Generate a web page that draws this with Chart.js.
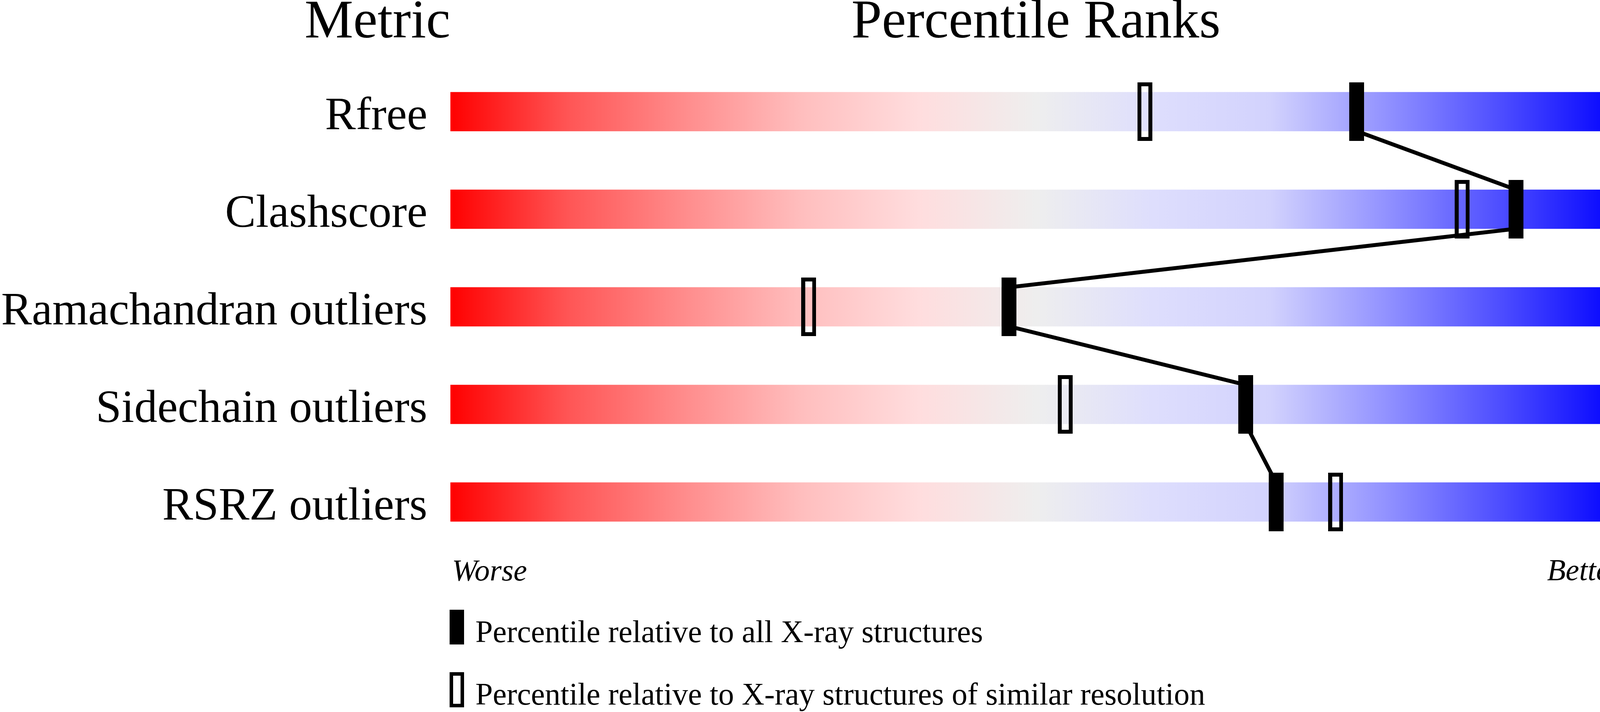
<!DOCTYPE html>
<html>
<head>
<meta charset="utf-8">
<title>Percentile Ranks</title>
<script src="https://cdn.jsdelivr.net/npm/chart.js@4.4.1/dist/chart.umd.min.js"></script>
<style>
  html, body { margin: 0; padding: 0; background: #fff; }
  #wrap { width: 4485px; height: 1824px; }
</style>
</head>
<body>
<div id="wrap"><canvas id="percentileChart"></canvas></div>
<script>
// values
const metrics = ['Rfree', 'Clashscore', 'Ramachandran outliers', 'Sidechain outliers', 'RSRZ outliers'];
const values = ['0.206', '2', '0.1%', '1.0%', '1.6%'];
const pctAll = [77.4, 91.0, 47.7, 67.9, 70.5];
const pctSimilar = [59.3, 86.4, 30.6, 52.5, 75.6];
const rowTicks = [0, 1, 2, 3, 4];
const legendLabels = [
    'Percentile relative to all X-ray structures',
    'Percentile relative to X-ray structures of similar resolution'
];

const SERIF = '"Liberation Serif", "Times New Roman", serif';
const BAR_HALF = 0.2; // half of a bar, in row units

const gradientStops = [
    [0.0, 'rgb(255,0,0)'],
    [0.1, 'rgb(255,85,85)'],
    [0.2, 'rgb(255,140,140)'],
    [0.3, 'rgb(255,190,190)'],
    [0.4, 'rgb(255,221,222)'],
    [0.5, 'rgb(238,238,238)'],
    [0.6, 'rgb(222,222,253)'],
    [0.7, 'rgb(210,210,253)'],
    [0.8, 'rgb(145,145,255)'],
    [0.9, 'rgb(75,75,255)'],
    [1.0, 'rgb(0,0,255)']
];

function makeMarker(w, h, hollow, border) {
    const c = document.createElement('canvas');
    c.width = w;
    c.height = h;
    const g = c.getContext('2d');
    if (hollow) {
        g.strokeStyle = '#000';
        g.lineWidth = border;
        g.strokeRect(border / 2, border / 2, w - border, h - border);
    } else {
        g.fillStyle = '#000';
        g.fillRect(0, 0, w, h);
    }
    return c;
}

const filledMarker = makeMarker(38, 150, false);
const hollowMarker = makeMarker(38, 150, true, 10);

let cachedGradient = null;
function sliderGradient(chart) {
    if (!chart.chartArea) return null;
    if (cachedGradient) return cachedGradient;
    const x = chart.scales.x;
    const g = chart.ctx.createLinearGradient(x.getPixelForValue(0), 0, x.getPixelForValue(100), 0);
    gradientStops.forEach(([p, c]) => g.addColorStop(p, c));
    cachedGradient = g;
    return g;
}

// line joining the "all structures" markers, bar bottom to next bar top
const linkPoints = [];
pctAll.forEach((p, i) => {
    if (i > 0) linkPoints.push({ x: p, y: i - BAR_HALF });
    if (i < pctAll.length - 1) linkPoints.push({ x: p, y: i + BAR_HALF });
});

const textPlugin = {
    id: 'sliderText',
    afterDraw(chart) {
        const { ctx, scales: { x } } = chart;
        const left = x.getPixelForValue(0);
        const right = x.getPixelForValue(100);
        ctx.save();
        ctx.fillStyle = '#000';
        ctx.textBaseline = 'alphabetic';

        ctx.font = `140px ${SERIF}`;
        ctx.textAlign = 'right';
        ctx.fillText('Metric', left, 96);
        ctx.textAlign = 'center';
        ctx.fillText('Percentile Ranks', (left + right) / 2, 96);
        ctx.textAlign = 'right';
        ctx.fillText('Value', chart.width - 1, 96);

        ctx.font = `italic 78px ${SERIF}`;
        ctx.textAlign = 'left';
        ctx.fillText('Worse', left + 4, 1487);
        ctx.textAlign = 'right';
        ctx.fillText('Better', right, 1486);

        // legend
        ctx.fillRect(left - 2, 1562, 37, 89);
        ctx.lineWidth = 9;
        ctx.strokeStyle = '#000';
        ctx.strokeRect(left - 2 + 4.5, 1722 + 4.5, 37 - 9, 90 - 9);
        ctx.font = `80px ${SERIF}`;
        ctx.textAlign = 'left';
        ctx.fillText(legendLabels[0], left + 64, 1645);
        ctx.fillText(legendLabels[1], left + 64, 1805);
        ctx.restore();
    }
};

const rowAxis = (position, labels, pad, width) => ({
    type: 'linear',
    position: position,
    min: -1.144,
    max: 6.152,
    reverse: true,
    offset: false,
    grid: { display: false },
    border: { display: false },
    afterBuildTicks: (scale) => { scale.ticks = rowTicks.map(v => ({ value: v })); },
    afterFit: (scale) => {
        scale.width = width;
        // labels sit well inside the rows, no need for edge padding
        scale.paddingTop = 0;
        scale.paddingBottom = 0;
    },
    ticks: {
        autoSkip: false,
        padding: pad,
        labelOffset: 14,
        color: '#000',
        font: { family: SERIF, size: 118 },
        callback: (value) => labels[value] ?? ''
    }
});

new Chart(document.getElementById('percentileChart'), {
    type: 'scatter',
    data: {
        datasets: [
            {
                type: 'bar',
                label: 'range',
                indexAxis: 'y',
                xAxisID: 'x',
                yAxisID: 'y',
                data: metrics.map((m, i) => ({ x: [0, 100], y: i })),
                backgroundColor: (ctx) => sliderGradient(ctx.chart),
                borderWidth: 0,
                barThickness: 100,
                order: 3
            },
            {
                type: 'line',
                label: 'link',
                data: linkPoints,
                showLine: true,
                borderColor: '#000',
                borderWidth: 10,
                pointRadius: 0,
                tension: 0,
                fill: false,
                order: 2
            },
            {
                label: legendLabels[1],
                data: pctSimilar.map((p, i) => ({ x: p, y: i })),
                pointStyle: hollowMarker,
                pointRadius: 5,
                order: 1
            },
            {
                label: legendLabels[0],
                data: pctAll.map((p, i) => ({ x: p, y: i })),
                pointStyle: filledMarker,
                pointRadius: 5,
                order: 0
            }
        ]
    },
    options: {
        responsive: true,
        maintainAspectRatio: false,
        animation: false,
        layout: { padding: 0, autoPadding: false },
        scales: {
            x: { type: 'linear', min: 0, max: 100, offset: false, display: false },
            y: rowAxis('left', metrics, 51, 1153),
            y2: rowAxis('right', values, 58, 334)
        },
        plugins: {
            legend: { display: false },
            tooltip: { enabled: false }
        }
    },
    plugins: [textPlugin]
});
</script>
</body>
</html>
